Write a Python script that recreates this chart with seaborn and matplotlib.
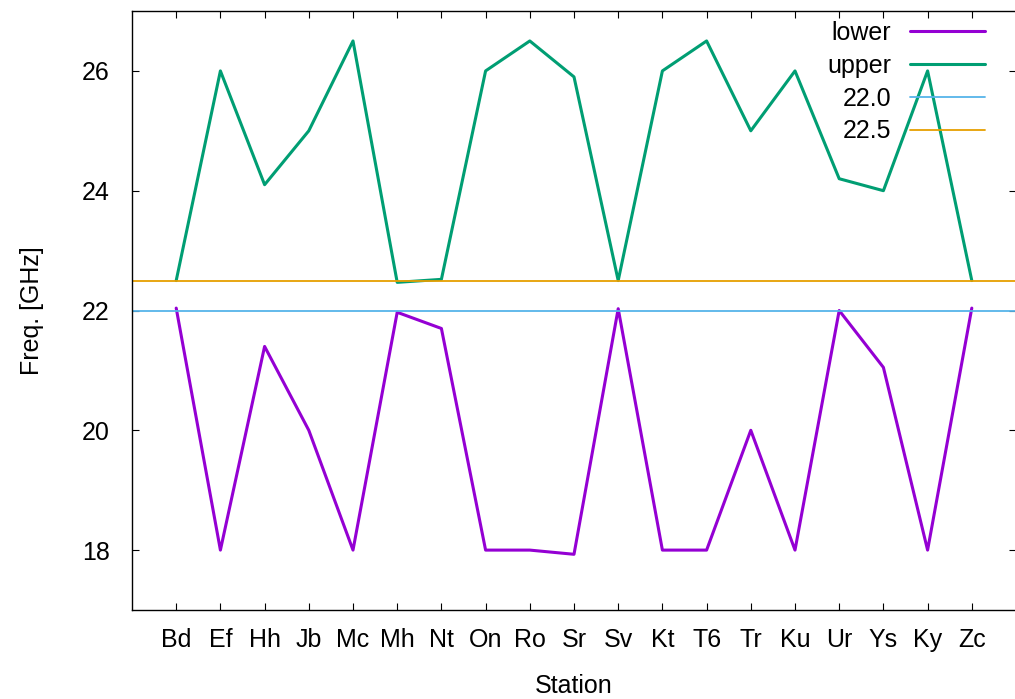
import matplotlib
matplotlib.use('Agg')
import matplotlib.pyplot as plt
import seaborn as sns
import pandas as pd

stations = ["Bd", "Ef", "Hh", "Jb", "Mc", "Mh", "Nt", "On", "Ro", "Sr",
            "Sv", "Kt", "T6", "Tr", "Ku", "Ur", "Ys", "Ky", "Zc"]
lower = [22.04, 18.0, 21.4, 20.0, 18.0, 21.97, 21.7, 18.0, 18.0, 17.93,
         22.03, 18.0, 18.0, 20.0, 18.0, 22.0, 21.05, 18.0, 22.04]
upper = [22.5, 26.0, 24.1, 25.0, 26.5, 22.47, 22.52, 26.0, 26.5, 25.9,
         22.5, 26.0, 26.5, 25.0, 26.0, 24.2, 24.0, 26.0, 22.5]
ref_levels = [22.0, 22.5]
ref_labels = ["22.0", "22.5"]
y_ticks = [18, 20, 22, 24, 26]

sns.set_style('ticks')
plt.rcParams['font.family'] = ['Liberation Sans', 'DejaVu Sans']
plt.rcParams['font.size'] = 18
plt.rcParams['text.color'] = 'black'
plt.rcParams['axes.labelcolor'] = 'black'

df = pd.DataFrame({"Station": stations, "lower": lower, "upper": upper})
df["pos"] = range(len(stations))

fig = plt.figure(figsize=(10.15, 6.99), dpi=100)
ax = fig.add_axes([132 / 1015, 89 / 699, 884 / 1015, 599 / 699])

sns.lineplot(data=df, x="pos", y="lower", ax=ax, color="#9400d3", lw=2.2, label="lower")
sns.lineplot(data=df, x="pos", y="upper", ax=ax, color="#009e73", lw=2.2, label="upper")
ax.axhline(ref_levels[0], color="#56b4e9", lw=1.3, label=ref_labels[0])
ax.axhline(ref_levels[1], color="#e69f00", lw=1.3, label=ref_labels[1])

ax.set_xlim(-1, len(stations))
ax.set_ylim(17, 27)
ax.set_xticks(df["pos"])
ax.set_xticklabels(stations)
ax.set_yticks(y_ticks)
ax.tick_params(direction='in', length=5, width=0.8, color='black',
               top=True, right=True, labelsize=18, labelcolor='black')
ax.tick_params(axis='y', pad=16)
ax.tick_params(axis='x', pad=13)
ax.set_xlabel("Station", fontsize=18, labelpad=16)
ax.set_ylabel("Freq. [GHz]", fontsize=18, labelpad=27)
for s in ax.spines.values():
    s.set_color('black')
    s.set_linewidth(1.0)

leg = ax.legend(loc='upper right', bbox_to_anchor=(0.965, 0.983), frameon=False,
                markerfirst=False, handlelength=3.0, handletextpad=0.75,
                labelspacing=0.35, borderpad=0, borderaxespad=0, fontsize=18)

fig.savefig("out.png", dpi=100)
